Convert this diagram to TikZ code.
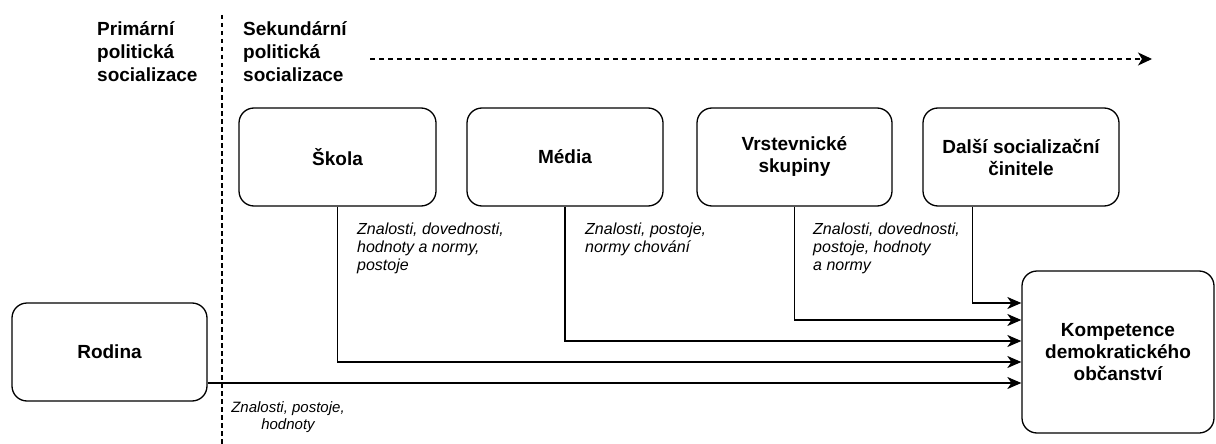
\documentclass[tikz,border=0pt]{standalone}
\usepackage{fontspec}
\setmainfont{Liberation Sans}
\usetikzlibrary{arrows.meta,calc}
\begin{document}
\begin{tikzpicture}[x=1pt,y=-1pt,
  box/.style={draw, line width=1.3pt, rounded corners=15pt, inner sep=0pt,
    align=center, font=\fontsize{19}{22}\selectfont\bfseries},
  head/.style={anchor=north west, inner sep=0pt, align=left,
    font=\fontsize{19}{23}\selectfont\bfseries},
  lbl/.style={anchor=north west, inner sep=0pt, align=left,
    font=\fontsize{16}{18}\selectfont\itshape},
  conn/.style={line width=1.3pt, -{Stealth[length=14pt,width=12pt,inset=4pt]}},
  sep/.style={line width=1.5pt, dash pattern=on 4.5pt off 3.5pt}]
\useasboundingbox (0,0) rectangle (1216,444);

% headings
\node[head] (prim) at (97,21) {Primární\\politická\\socializace};
\node[head] (sek) at (243,21) {Sekundární\\politická\\socializace};

% separator and timeline
\coordinate (sepTop) at (222,15);
\coordinate (sepBot) at (222,444);
\draw[sep] (sepTop) -- (sepBot);
\coordinate (tlStart) at (370,59);
\coordinate (tlEnd) at (1152,59);
\draw[line width=1.2pt, dash pattern=on 5pt off 4pt,
  -{Stealth[length=14pt,width=13pt,inset=4pt]}] (tlStart) -- (tlEnd);

% boxes
\node[box, minimum width=197pt, minimum height=98pt] (skola) at (337.5,157) {Škola};
\node[box, minimum width=196pt, minimum height=98pt] (media) at (565,157) {Média};
\node[box, minimum width=195pt, minimum height=98pt] (vrst) at (794.5,157) {Vrstevnické\\skupiny};
\node[box, minimum width=196pt, minimum height=98pt] (dalsi) at (1021,157) {Další socializační\\činitele};
\node[box, minimum width=195pt, minimum height=98pt] (rodina) at (109.5,352) {Rodina};
\node[box, minimum width=192pt, minimum height=162pt] (komp) at (1118,352) {Kompetence\\demokratického\\občanství};

% connectors
\draw[conn] ([xshift=50pt]dalsi.south west) |- ([yshift=49pt]komp.west);
\draw[conn] (vrst.south) |- ([yshift=32pt]komp.west);
\draw[conn] (media.south) |- ([yshift=11pt]komp.west);
\draw[conn] (skola.south) |- ([yshift=-10pt]komp.west);
\draw[conn] ([yshift=-31pt]rodina.east) -- ([yshift=-31pt]komp.west);

% labels
\node[lbl] (lskola) at (357,223) {Znalosti, dovednosti,\\hodnoty a normy,\\postoje};
\node[lbl] (lmedia) at (585,223) {Znalosti, postoje,\\normy chování};
\node[lbl] (lvrst) at (813,223) {Znalosti, dovednosti,\\postoje, hodnoty\\a normy};
\node[anchor=north, inner sep=0pt, align=center,
  font=\fontsize{15}{17}\selectfont\itshape] (lrodina) at (288,401) {Znalosti, postoje,\\hodnoty};
\end{tikzpicture}
\end{document}
